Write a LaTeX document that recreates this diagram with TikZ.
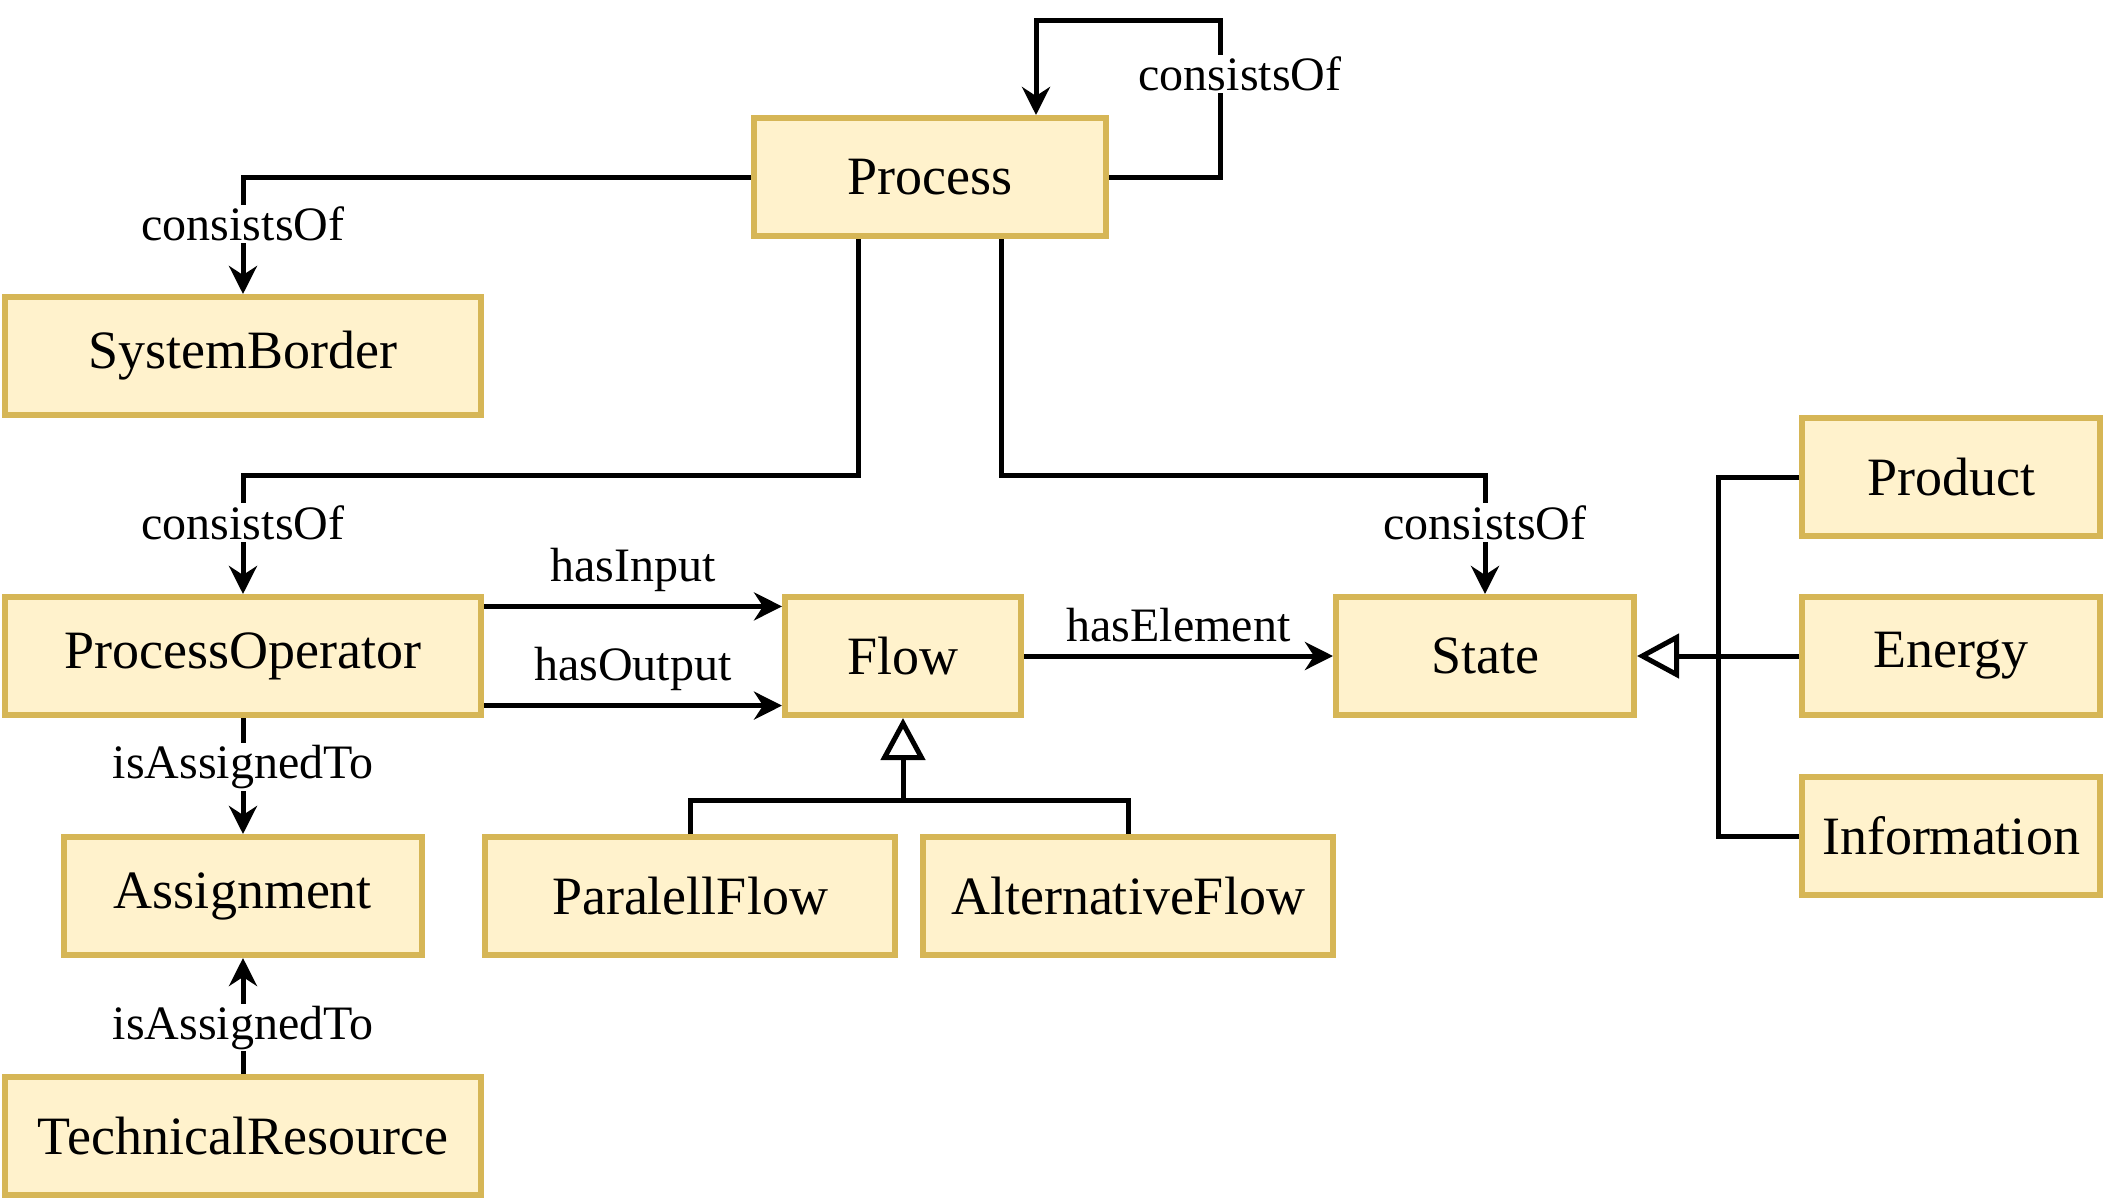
\documentclass[tikz,border=0pt]{standalone}
\usepackage{fontspec}
\setmainfont{Liberation Serif}
\usetikzlibrary{arrows.meta,calc}
\definecolor{boxfill}{HTML}{FFF2CC}
\definecolor{boxline}{HTML}{D6B656}
\begin{document}
\begin{tikzpicture}[x=0.5pt,y=-0.5pt,line width=2.5pt]
    % `entity' is used for every class box.
    % `relation' is used for the named associations (filled tip).
    % `inherit' is used for the generalisations (open triangle).
    \tikzstyle{entity} = [draw=boxline,fill=boxfill,line width=3pt,minimum height=59pt,inner sep=0pt,font=\fontsize{27}{32}\selectfont]
    \tikzstyle{relation} = [draw,-{Stealth[length=14pt,width=14pt,inset=4.5pt]}]
    \tikzstyle{inherit} = [draw,-{Triangle[open,length=21pt,width=22pt]}]
    \tikzstyle{rellabel} = [fill=white,inner sep=1pt,font=\fontsize{24}{28}\selectfont]
    \useasboundingbox (0,0) rectangle (2106,1200);
    %
    \node[entity,minimum width=176pt] (process) at (930,177) {Process};
    \node[entity,minimum width=238pt] (sysb) at (243,356) {SystemBorder};
    \node[entity,minimum width=238pt] (pop) at (243,656) {ProcessOperator};
    \node[entity,minimum width=118pt] (flow) at (903,656) {Flow};
    \node[entity,minimum width=149pt] (state) at (1485,656) {State};
    \node[entity,minimum width=149pt] (product) at (1951,477) {Product};
    \node[entity,minimum width=149pt] (energy) at (1951,656) {Energy};
    \node[entity,minimum width=149pt] (info) at (1951,836) {Information};
    \node[entity,minimum width=179pt] (assign) at (243,896) {Assignment};
    \node[entity,minimum width=205pt] (pflow) at (690,896) {ParalellFlow};
    \node[entity,minimum width=205pt] (aflow) at (1128,896) {AlternativeFlow};
    \node[entity,minimum width=238pt] (tres) at (243,1136) {TechnicalResource};
    %
    % Bends and junctions.
    \coordinate (loopR) at (1220,20);
    \coordinate (loopL) at (1036,20);
    \coordinate (pOutL) at ($(process.south west)!0.3!(process.south east)$);
    \coordinate (pOutR) at ($(process.south west)!0.7!(process.south east)$);
    \coordinate (busL) at (243,475);
    \coordinate (busR) at (1485,475);
    \coordinate (popIn) at ($(pop.north east)!0.1!(pop.south east)$);
    \coordinate (popOut) at ($(pop.north east)!0.9!(pop.south east)$);
    \coordinate (genF) at (903,800);
    \coordinate (genS) at (1718,656);
    %
    % consistsOf
    \draw[relation] (process.east) -| (loopR) -| (process.north -| loopL);
    \node[rellabel] (lSelf) at (1240,74) {consistsOf};
    \draw[relation] (process.west) -| (sysb.north);
    \node[rellabel] (lSys) at (243,224) {consistsOf};
    \draw[relation] (pOutL) |- (busL) -- node[rellabel,pos=0.4] (lPop) {consistsOf} (pop.north);
    \draw[relation] (pOutR) |- (busR) -- node[rellabel,pos=0.4] (lState) {consistsOf} (state.north);
    % flows
    \draw[relation] (popIn) -- node[rellabel,above=5pt] (lIn) {hasInput} (popIn -| flow.west);
    \draw[relation] (popOut) -- node[rellabel,above=5pt] (lOut) {hasOutput} (popOut -| flow.west);
    \draw[relation] (flow.east) -- node[rellabel,above=5pt] (lElem) {hasElement} (state.west);
    % assignments
    \draw[relation] (pop.south) -- node[rellabel,pos=0.42] (lAsg1) {isAssignedTo} (assign.north);
    \draw[relation] (tres.north) -- node[rellabel,pos=0.4] (lAsg2) {isAssignedTo} (assign.south);
    % generalisations
    \draw (pflow.north) |- (genF) -| (aflow.north);
    \draw[inherit] (genF) -- (flow.south);
    \draw (product.west) -| (genS) |- (info.west);
    \draw[inherit] (energy.west) -- (state.east);
\end{tikzpicture}
\end{document}
